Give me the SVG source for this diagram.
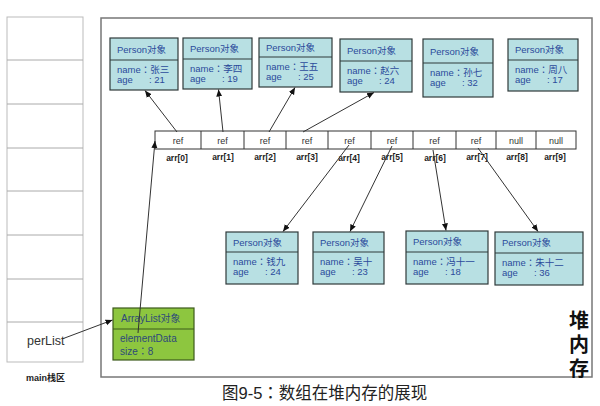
<svg xmlns="http://www.w3.org/2000/svg" width="600" height="406" viewBox="0 0 600 406">
<defs>
<style>
.t{font-family:"Liberation Sans","Noto Sans CJK SC",sans-serif}
.c{font-family:"Noto Sans CJK JP",sans-serif}
.pb{fill:#b8e0e3;stroke:#2f3a3a;stroke-width:1.2}
.pt{font-size:9.5px;fill:#2b4b9b}
.cell{fill:#fff;stroke:#333;stroke-width:1}
.rt{font-size:9px;fill:#333;text-anchor:middle}
.al{font-size:8.5px;fill:#222;text-anchor:middle;font-weight:bold}
.ar{stroke:#333;stroke-width:1;fill:none;marker-end:url(#ah)}
.sk{fill:#fff;stroke:#bbb;stroke-width:1}
</style>
<marker id="ah" markerUnits="userSpaceOnUse" markerWidth="8" markerHeight="8" viewBox="0 0 8 8" refX="7" refY="4" orient="auto">
<path d="M0,1 L7,4 L0,7 Z" fill="#111"/>
</marker>
</defs>
<rect width="600" height="406" fill="#fff"/>

<g id="stack">
<rect class="sk" x="7" y="17" width="76" height="345"/>
<path d="M7,60H83M7,104H83M7,148H83M7,191H83M7,235H83M7,279H83M7,322H83" stroke="#aaa" stroke-width="1"/>
<text class="t" x="27" y="345" font-size="12.5" fill="#333">perList</text>
<text class="t" x="26" y="381" font-size="9" font-weight="bold" fill="#222">main栈区</text>
</g>

<g id="heap">
<rect x="101" y="18" width="491" height="359" fill="none" stroke="#777" stroke-width="1.5"/>
<text class="t" x="579" y="328" font-size="20" font-weight="bold" fill="#111" text-anchor="middle">堆</text>
<text class="t" x="579" y="352" font-size="20" font-weight="bold" fill="#111" text-anchor="middle">内</text>
<text class="t" x="579" y="376" font-size="20" font-weight="bold" fill="#111" text-anchor="middle">存</text>
</g>

<g id="p1"><rect class="pb" x="110" y="38" width="68" height="52"/><path d="M110,60H178" stroke="#2f3a3a"/>
<text class="t pt" x="117" y="52.5">Person对象</text><text class="t pt" x="117" y="72.5">name<tspan class="c">：</tspan>张三</text><text class="t pt" x="117" y="82.5">age<tspan x="149">: 21</tspan></text></g>
<g id="p2"><rect class="pb" x="183" y="38" width="69" height="51"/><path d="M183,59H252" stroke="#2f3a3a"/>
<text class="t pt" x="190" y="52">Person对象</text><text class="t pt" x="190" y="71.5">name<tspan class="c">：</tspan>李四</text><text class="t pt" x="190" y="81.5">age<tspan x="222">: 19</tspan></text></g>
<g id="p3"><rect class="pb" x="259" y="38" width="73" height="49"/><path d="M259,57H332" stroke="#2f3a3a"/>
<text class="t pt" x="266" y="51">Person对象</text><text class="t pt" x="266" y="69.5">name<tspan class="c">：</tspan>王五</text><text class="t pt" x="266" y="79.5">age<tspan x="298">: 25</tspan></text></g>
<g id="p4"><rect class="pb" x="340" y="39" width="72" height="53"/><path d="M340,61H412" stroke="#2f3a3a"/>
<text class="t pt" x="347" y="53.5">Person对象</text><text class="t pt" x="347" y="73.5">name<tspan class="c">：</tspan>赵六</text><text class="t pt" x="347" y="83.5">age<tspan x="379">: 24</tspan></text></g>
<g id="p5"><rect class="pb" x="423" y="39" width="70" height="58"/><path d="M423,63H493" stroke="#2f3a3a"/>
<text class="t pt" x="430" y="54.5">Person对象</text><text class="t pt" x="430" y="75.5">name<tspan class="c">：</tspan>孙七</text><text class="t pt" x="430" y="85.5">age<tspan x="462">: 32</tspan></text></g>
<g id="p6"><rect class="pb" x="508" y="39" width="70" height="52"/><path d="M508,60H578" stroke="#2f3a3a"/>
<text class="t pt" x="515" y="53">Person对象</text><text class="t pt" x="515" y="72.5">name<tspan class="c">：</tspan>周八</text><text class="t pt" x="515" y="82.5">age<tspan x="547">: 17</tspan></text></g>

<g id="p7"><rect class="pb" x="226" y="232" width="72" height="52"/><path d="M226,252H298" stroke="#2f3a3a"/>
<text class="t pt" x="233" y="245.5">Person对象</text><text class="t pt" x="233" y="264.5">name<tspan class="c">：</tspan>钱九</text><text class="t pt" x="233" y="274.5">age<tspan x="265">: 24</tspan></text></g>
<g id="p8"><rect class="pb" x="313" y="232" width="71" height="52"/><path d="M313,252H384" stroke="#2f3a3a"/>
<text class="t pt" x="320" y="245.5">Person对象</text><text class="t pt" x="320" y="264.5">name<tspan class="c">：</tspan>吴十</text><text class="t pt" x="320" y="274.5">age<tspan x="352">: 23</tspan></text></g>
<g id="p9"><rect class="pb" x="406" y="231" width="82" height="53"/><path d="M406,252H488" stroke="#2f3a3a"/>
<text class="t pt" x="413" y="245">Person对象</text><text class="t pt" x="413" y="264.5">name<tspan class="c">：</tspan>冯十一</text><text class="t pt" x="413" y="274.5">age<tspan x="445">: 18</tspan></text></g>
<g id="p10"><rect class="pb" x="495" y="232" width="88" height="53"/><path d="M495,253H583" stroke="#2f3a3a"/>
<text class="t pt" x="502" y="246">Person对象</text><text class="t pt" x="502" y="265.5">name<tspan class="c">：</tspan>朱十二</text><text class="t pt" x="502" y="275.5">age<tspan x="534">: 36</tspan></text></g>

<g id="arr">
<rect class="cell" x="155" y="131" width="421" height="18"/>
<path d="M201,131V149M244,131V149M286,131V149M328,131V149M371,131V149M413,131V149M456,131V149M496,131V149M536,131V149" stroke="#333" stroke-width="1"/>
<text class="t rt" x="178" y="144">ref</text>
<text class="t rt" x="222.5" y="144">ref</text>
<text class="t rt" x="265" y="144">ref</text>
<text class="t rt" x="307" y="144">ref</text>
<text class="t rt" x="349.5" y="144">ref</text>
<text class="t rt" x="392" y="144">ref</text>
<text class="t rt" x="434.5" y="144">ref</text>
<text class="t rt" x="476" y="144">ref</text>
<text class="t rt" x="516" y="144">null</text>
<text class="t rt" x="556" y="144">null</text>
<text class="t al" x="177" y="161">arr[0]</text>
<text class="t al" x="223" y="160">arr[1]</text>
<text class="t al" x="265" y="160">arr[2]</text>
<text class="t al" x="307" y="160">arr[3]</text>
<text class="t al" x="349" y="161">arr[4]</text>
<text class="t al" x="392" y="160">arr[5]</text>
<text class="t al" x="435" y="161">arr[6]</text>
<text class="t al" x="477" y="160">arr[7]</text>
<text class="t al" x="517" y="160">arr[8]</text>
<text class="t al" x="555" y="160">arr[9]</text>
</g>

<g id="arraylist">
<rect x="113" y="308" width="81" height="52" fill="#8dc63f" stroke="#3d5a1c" stroke-width="1.2"/>
<path d="M113,329H194" stroke="#3d5a1c" stroke-width="1.2"/>
<text class="t" x="121" y="322" font-size="10" fill="#2e4a7a">ArrayList对象</text>
<text class="t" x="120" y="342" font-size="10" fill="#2e4a7a">elementData</text>
<text class="t" x="120" y="354.5" font-size="10" fill="#2e4a7a">size<tspan class="c">：</tspan>8</text>
</g>

<g id="connectors">
<line class="ar" x1="177" y1="132" x2="145" y2="90.5"/>
<line class="ar" x1="223" y1="132" x2="218.5" y2="89.5"/>
<line class="ar" x1="269" y1="132" x2="295" y2="87.5"/>
<line class="ar" x1="303" y1="132" x2="374" y2="92.5"/>
<line class="ar" x1="349" y1="145" x2="283" y2="231.5"/>
<line class="ar" x1="392" y1="146" x2="350" y2="231.5"/>
<line class="ar" x1="433" y1="150" x2="446" y2="230.5"/>
<line class="ar" x1="478" y1="148" x2="538" y2="231.5"/>
<line class="ar" x1="138" y1="333" x2="155" y2="141"/>
<line class="ar" x1="62" y1="339" x2="112.5" y2="320"/>
</g>

<text class="t" x="222" y="399" font-size="16.5" fill="#222">图9-5<tspan class="c">：</tspan>数组在堆内存的展现</text>
</svg>
